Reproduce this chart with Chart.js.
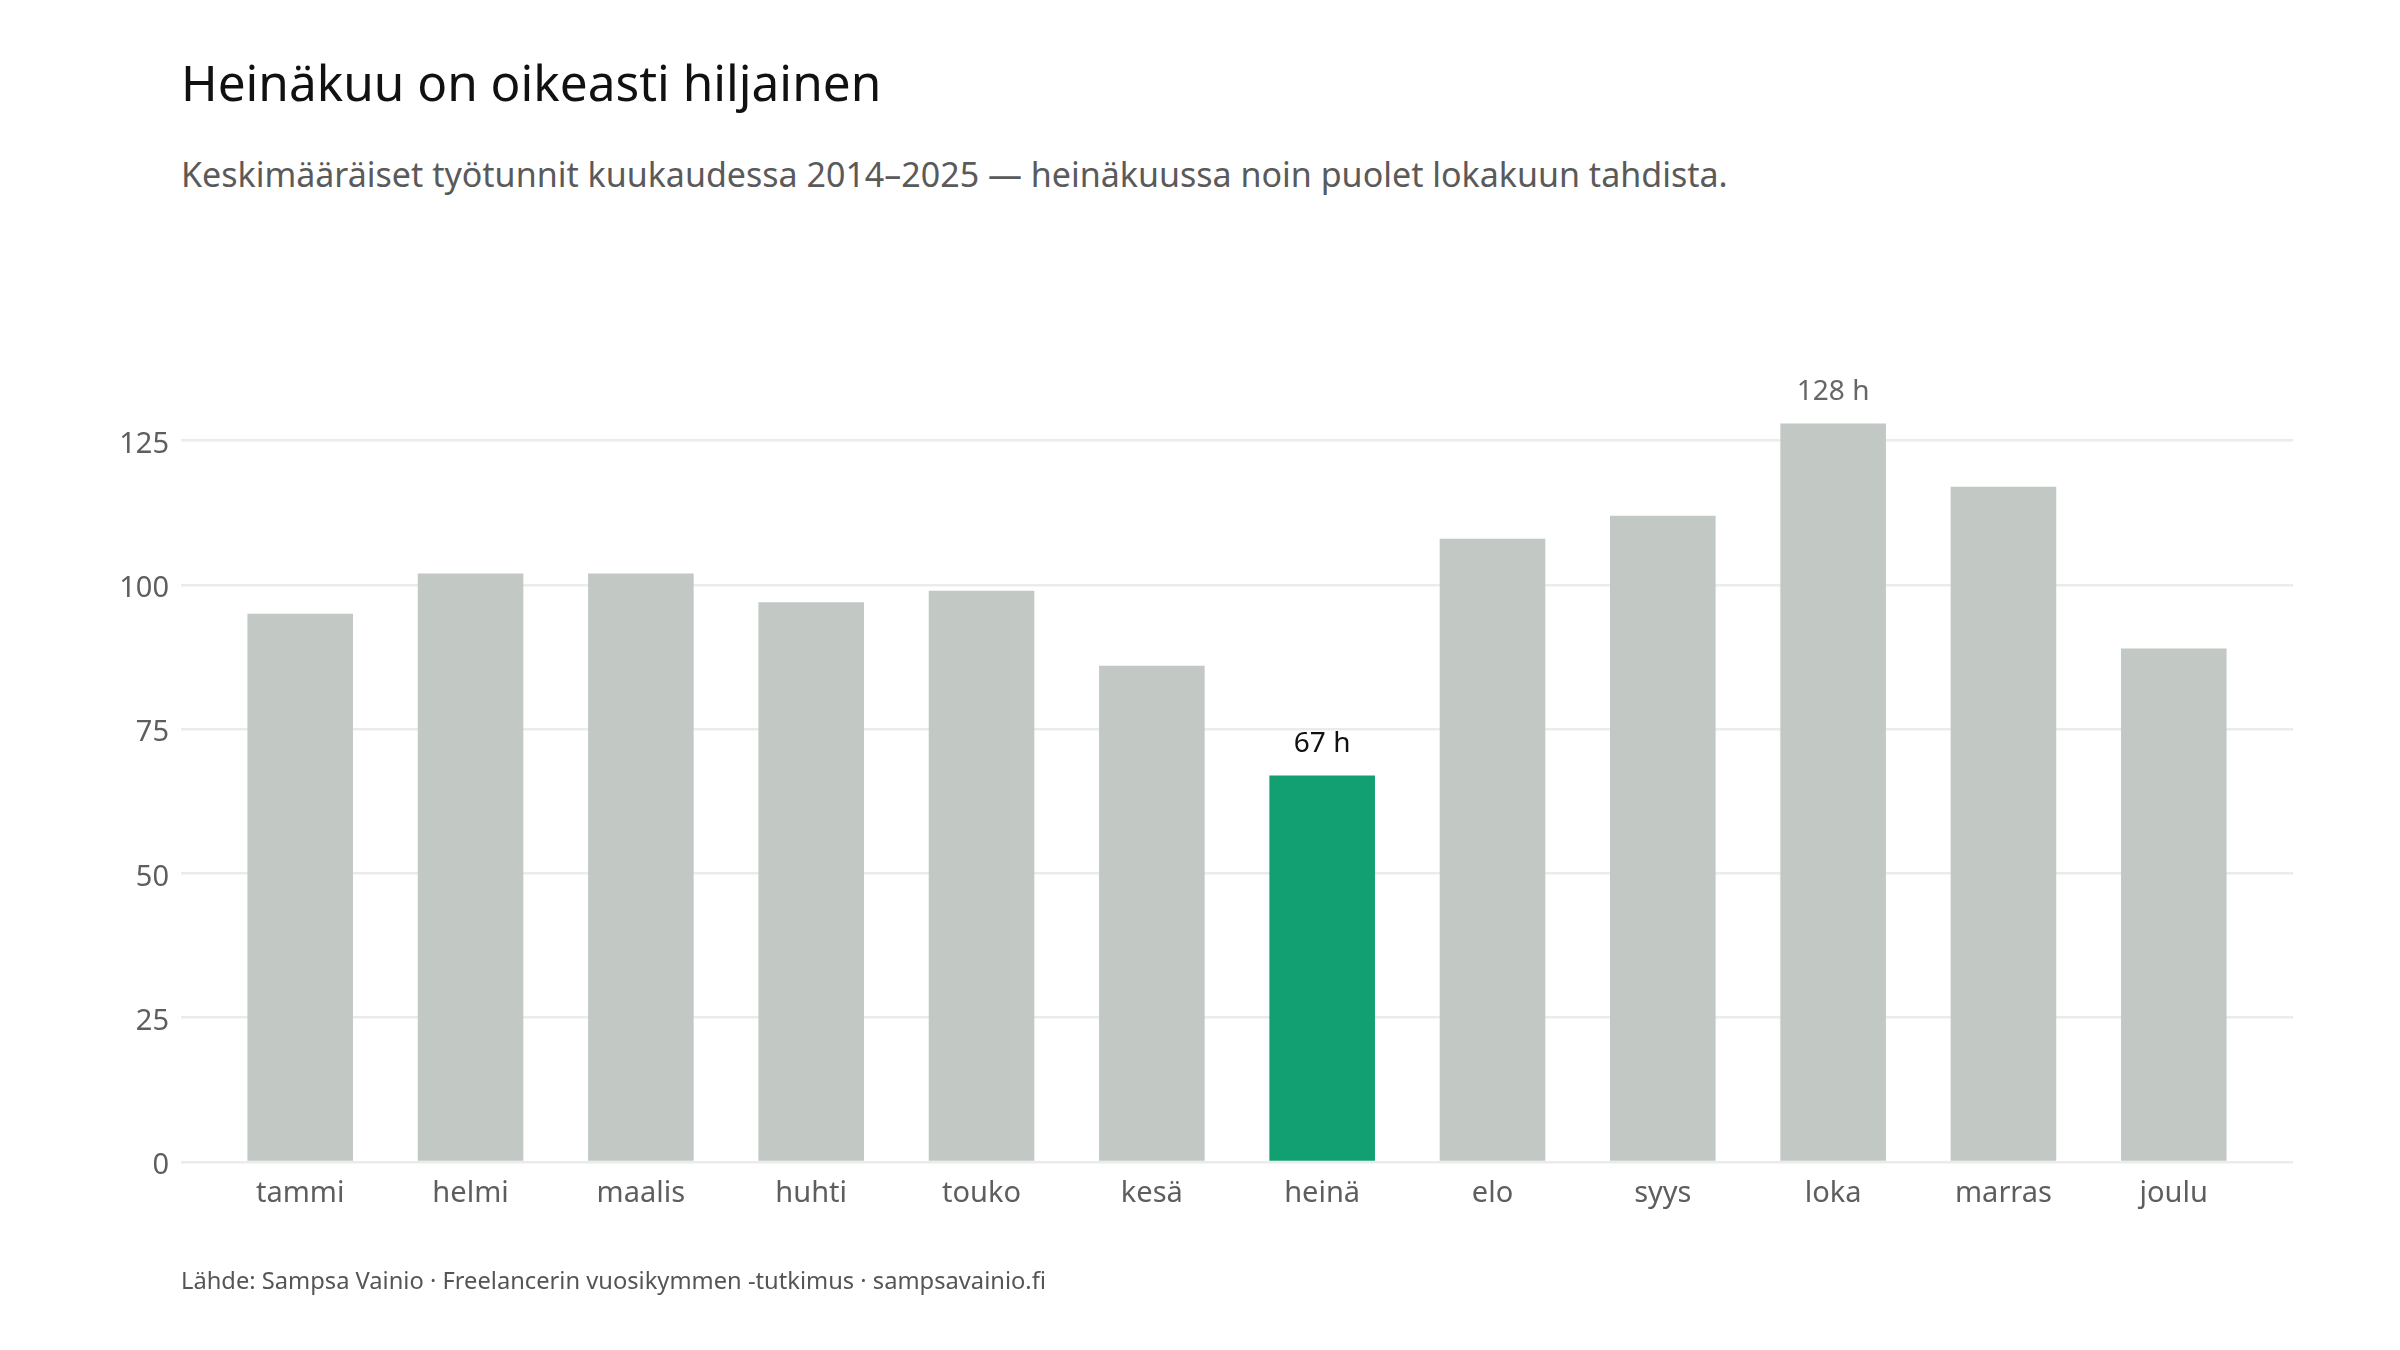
<!DOCTYPE html>
<html lang="fi">
<head>
<meta charset="utf-8">
<title>Heinäkuu on oikeasti hiljainen</title>
<script src="https://cdn.jsdelivr.net/npm/chart.js@4.4.1/dist/chart.umd.min.js"></script>
<style>
  html, body { margin: 0; padding: 0; background: #ffffff; }
  #wrap { position: relative; width: 2400px; height: 1350px; overflow: hidden; font-family: "Noto Sans", sans-serif; }
  #otsikko { position: absolute; left: 181px; top: 48px; margin: 0; font-size: 49.5px; font-weight: 400; color: #111111; white-space: nowrap; }
  #ala { position: absolute; left: 181px; top: 151px; margin: 0; font-size: 34px; font-weight: 400; color: #5a5a5a; white-space: nowrap; }
  #lahde { position: absolute; left: 181px; top: 1264px; margin: 0; font-size: 23.7px; color: #555555; white-space: nowrap; }
  #kuva { position: absolute; left: 0; top: 0; }
</style>
</head>
<body>
<div id="wrap">
  <h1 id="otsikko">Heinäkuu on oikeasti hiljainen</h1>
  <p id="ala">Keskimääräiset työtunnit kuukaudessa 2014–2025 — heinäkuussa noin puolet lokakuun tahdista.</p>
  <canvas id="kuva" width="2400" height="1350"></canvas>
  <p id="lahde">Lähde: Sampsa Vainio · Freelancerin vuosikymmen -tutkimus · sampsavainio.fi</p>
</div>
<script>
// kuukaudet ja keskimääräiset työtunnit
var kuukaudet = ["tammi", "helmi", "maalis", "huhti", "touko", "kesä", "heinä", "elo", "syys", "loka", "marras", "joulu"];
var tunnit = [95, 102, 102, 97, 99, 86, 67, 108, 112, 128, 117, 89];
var yTikit = [0, 25, 50, 75, 100, 125];
var korostettu = "heinä";
var merkityt = ["heinä", "loka"];

var harmaa = "#c2c9c4";
var vihrea = "#12a072";

var pisteet = kuukaudet.map(function (k, i) {
    return { x: i, y: tunnit[i] };
});

var varit = kuukaudet.map(function (k) {
    return k === korostettu ? vihrea : harmaa;
});

// tuntimäärät pylväiden päälle
var tuntiTekstit = {
    id: "tuntiTekstit",
    afterDatasetsDraw: function (chart) {
        var ctx = chart.ctx;
        var meta = chart.getDatasetMeta(0);
        ctx.save();
        ctx.font = "28px 'Noto Sans', sans-serif";
        ctx.textAlign = "center";
        ctx.textBaseline = "alphabetic";
        merkityt.forEach(function (k) {
            var i = kuukaudet.indexOf(k);
            var bar = meta.data[i];
            ctx.fillStyle = k === korostettu ? "#111111" : "#666666";
            ctx.fillText(tunnit[i] + " h", bar.x, bar.y - 23);
        });
        ctx.restore();
    }
};

var ctx = document.getElementById("kuva").getContext("2d");
var kaavio = new Chart(ctx, {
    type: "bar",
    data: {
        datasets: [
            {
                label: "työtunnit",
                data: pisteet,
                backgroundColor: varit,
                borderWidth: 0,
                barPercentage: 1,
                categoryPercentage: 0.62,
            },
        ],
    },
    options: {
        responsive: false,
        animation: false,
        devicePixelRatio: 1,
        layout: {
            padding: { top: 383, right: 107, bottom: 0, left: 0 },
        },
        plugins: {
            legend: { display: false },
            tooltip: { enabled: false },
        },
        scales: {
            x: {
                type: "linear",
                min: -0.7,
                max: 11.7,
                offset: false,
                grid: { display: false },
                border: { display: false },
                afterBuildTicks: function (scale) {
                    scale.ticks = kuukaudet.map(function (k, i) {
                        return { value: i };
                    });
                },
                afterFit: function (scale) {
                    scale.height = 188;
                },
                ticks: {
                    color: "#5e5e5e",
                    padding: 6,
                    maxRotation: 0,
                    autoSkip: false,
                    font: { family: "'Noto Sans', sans-serif", size: 29 },
                    callback: function (value) {
                        return kuukaudet[value];
                    },
                },
            },
            y: {
                min: 0,
                max: 135,
                border: { display: false },
                grid: {
                    color: "#e9ecea",
                    lineWidth: 2.5,
                    drawTicks: false,
                },
                afterBuildTicks: function (scale) {
                    scale.ticks = yTikit.map(function (v) {
                        return { value: v };
                    });
                },
                afterFit: function (scale) {
                    scale.width = 181;
                },
                ticks: {
                    color: "#5e5e5e",
                    padding: 12,
                    labelOffset: 4,
                    font: { family: "'Noto Sans', sans-serif", size: 29 },
                },
            },
        },
    },
    plugins: [tuntiTekstit],
});
</script>
</body>
</html>
